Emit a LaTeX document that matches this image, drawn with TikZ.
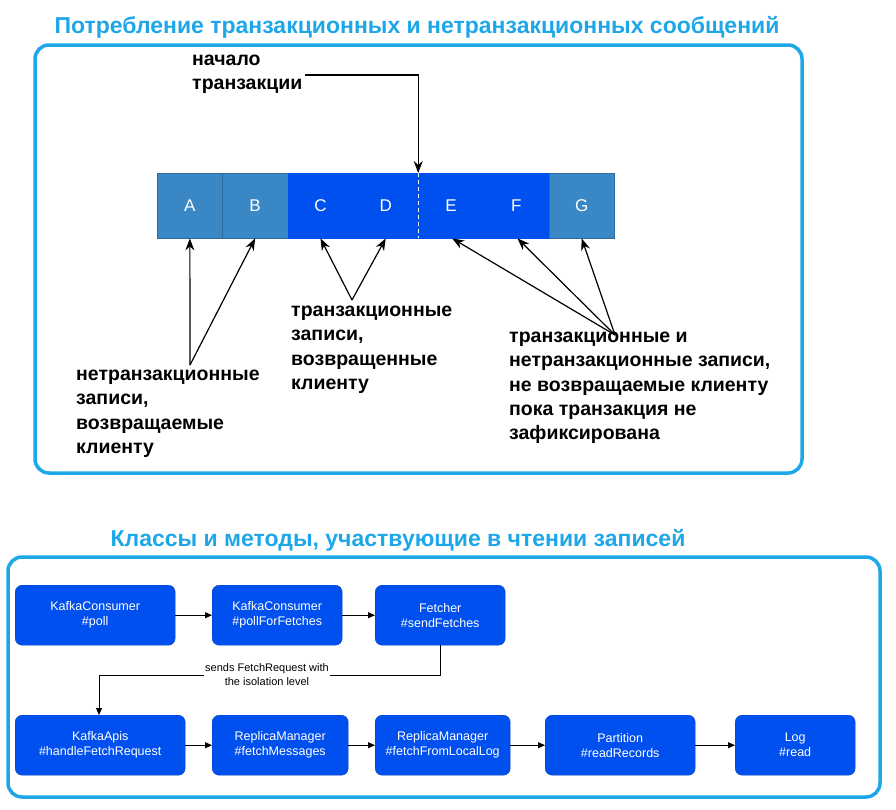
\documentclass[tikz,border=0pt]{standalone}
\usepackage{fontspec}
\setmainfont{Liberation Sans}
\usetikzlibrary{arrows.meta}
\definecolor{frm}{HTML}{1EA7E8}
\definecolor{dblue}{HTML}{0050EF}
\definecolor{sblue}{HTML}{3A87C5}
\begin{document}
\begin{tikzpicture}[x=1pt,y=-1pt,
  frame/.style={draw=frm,line width=3.5pt,rounded corners=14pt},
  title/.style={font=\bfseries\fontsize{23}{26}\selectfont,text=frm},
  cell/.style={draw=sblue!80!black,line width=0.4pt,minimum width=65.3pt,minimum height=65pt,inner sep=0pt,text=white,font=\fontsize{17}{20}\selectfont,anchor=north west},
  lbl/.style={font=\bfseries\fontsize{19.5}{24.2}\selectfont,align=left,anchor=north west,inner sep=0pt},
  box/.style={fill=dblue,draw=dblue!80!black,rounded corners=7pt,text=white,font=\fontsize{12.5}{15}\selectfont,align=center,minimum height=60pt,inner sep=2pt,anchor=north west},
  arr/.style={-{Stealth[length=12pt,width=9pt]},line width=1.2pt},
  farr/.style={-{Triangle[length=7pt,width=6pt]},line width=0.9pt}]
\useasboundingbox (0,0) rectangle (896,809);
\node[title] (t1) at (417,27) {Потребление транзакционных и нетранзакционных сообщений};
\draw[frame] (35,45) rectangle (802,473);
\node[title] (t2) at (398,540) {Классы и методы, участвующие в чтении записей};
\draw[frame] (8,557) rectangle (880,797);
% bar
\node[cell,fill=sblue] (A) at (157,173) {A};
\node[cell,fill=sblue] (B) at (222.3,173) {B};
\node[cell,fill=dblue,draw=dblue] (C) at (287.6,173) {C};
\node[cell,fill=dblue,draw=dblue] (D) at (352.9,173) {D};
\node[cell,fill=dblue,draw=dblue] (E) at (418.2,173) {E};
\node[cell,fill=dblue,draw=dblue] (F) at (483.5,173) {F};
\node[cell,fill=sblue] (G) at (548.8,173) {G};
\draw[white,line width=1.2pt,dash pattern=on 4pt off 3pt] (E.north west) -- (E.south west);
% start
\node[lbl] (start) at (192,55) {начало\\транзакции};
\coordinate (s0) at (305,75);
\draw[arr] (s0) -| (E.north west);
% bottom labels
\node[lbl] (l1) at (76,370) {нетранзакционные\\записи,\\возвращаемые\\клиенту};
\node[lbl] (l2) at (291,306) {транзакционные\\записи,\\возвращенные\\клиенту};
\node[lbl] (l3) at (509,332) {транзакционные и\\нетранзакционные записи,\\не возвращаемые клиенту\\пока транзакция не\\зафиксирована};
\coordinate (p1) at (190,365);
\coordinate (p2) at (352,300);
\coordinate (p3) at (615,335);
\draw[arr] (p1) -- (A.south);
\draw[arr] (p1) -- (B.south);
\draw[arr] (p2) -- (C.south);
\draw[arr] (p2) -- (D.south);
\draw[arr] (p3) -- ([xshift=34pt]E.south west);
\draw[arr] (p3) -- ([xshift=34pt]F.south west);
\draw[arr] (p3) -- (G.south);
% classes
\node[box,minimum width=160pt] (b1) at (15,585) {KafkaConsumer\\\#poll};
\node[box,minimum width=130pt] (b2) at (212,585) {KafkaConsumer\\\#pollForFetches};
\node[box,minimum width=130pt] (b3) at (375,585) {Fetcher\\\#sendFetches};
\node[box,minimum width=170pt] (c1) at (15,715) {KafkaApis\\\#handleFetchRequest};
\node[box,minimum width=136pt] (c2) at (212,715) {ReplicaManager\\\#fetchMessages};
\node[box,minimum width=135pt] (c3) at (375,715) {ReplicaManager\\\#fetchFromLocalLog};
\node[box,minimum width=150pt] (c4) at (545,715) {Partition\\\#readRecords};
\node[box,minimum width=120pt] (c5) at (735,715) {Log\\\#read};
\draw[farr] (b1) -- (b2);
\draw[farr] (b2) -- (b3);
\draw[farr] (c1) -- (c2);
\draw[farr] (c2) -- (c3);
\draw[farr] (c3) -- (c4);
\draw[farr] (c4) -- (c5);
\coordinate (k1) at (440,675);
\draw[farr] (b3.south -| k1) -- (k1) -- (99,675) -- (c1.north -| 99,0);
\node[fill=white,font=\fontsize{11}{14}\selectfont,align=center,inner sep=1pt] (lab) at (267,675) {sends FetchRequest with\\the isolation level};
\end{tikzpicture}
\end{document}
